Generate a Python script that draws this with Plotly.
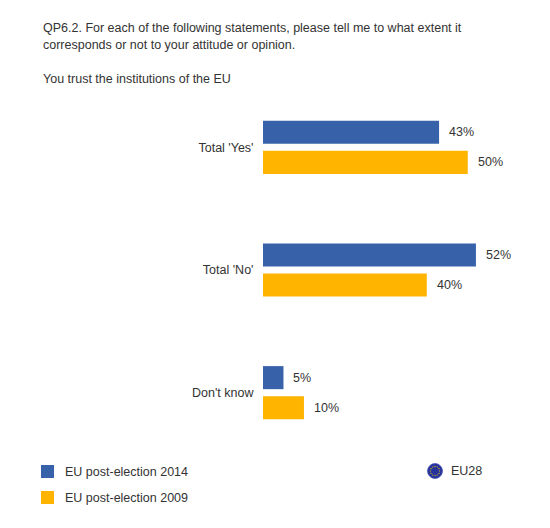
import math
import plotly.graph_objects as go

"""
Data
"""
categories = ["Total 'Yes'", "Total 'No'", "Don't know"]
series_names = ['EU post-election 2014', 'EU post-election 2009']
values_2014 = [43, 52, 5]
values_2009 = [50, 40, 10]

question = ['QP6.2. For each of the following statements, please tell me to what extent it',
            'corresponds or not to your attitude or opinion.']
subtitle = 'You trust the institutions of the EU'
scope_label = 'EU28'

"""
Style
"""
BLUE = '#3762AA'
ORANGE = '#FFB400'
TEXT = '#333333'
FONT = 'Liberation Sans, Arial, sans-serif'
FS = 12.5

OFF = 8  # the page body has an 8px margin, so the figure sits 8px in
# plot area in page pixels (window 550x528)
L, R, T, B = 263, 5, 86, 74
PX_PER_PCT = 4.095
x_max = (550 - L - R) / PX_PER_PCT

fig = go.Figure()
colors = [BLUE, ORANGE]
for name, vals, col in zip(series_names, [values_2014, values_2009], colors):
    fig.add_trace(go.Bar(y=categories, x=vals, orientation='h', name=name,
                         marker=dict(color=col, line=dict(width=0)),
                         showlegend=False, hoverinfo='x+y'))

# value labels next to bar ends
for vals, shift in zip([values_2014, values_2009], [15, -15]):
    for cat, v in zip(categories, vals):
        fig.add_annotation(x=v, y=cat, text='{}%'.format(v), showarrow=False,
                           xanchor='left', yanchor='middle', xshift=8, yshift=shift,
                           font=dict(family=FONT, size=FS, color=TEXT))

# title lines
for txt, ypix in zip(question + [subtitle], [28, 45, 79]):
    fig.add_annotation(x=0, y=1, xref='paper', yref='paper', text=txt, showarrow=False,
                       xanchor='left', yanchor='middle', xshift=41 - L, yshift=T - ypix,
                       font=dict(family=FONT, size=FS, color=TEXT))

# legend (drawn by hand to match the layout)
bottom = 528 - B
for name, col, (top_px, bot_px) in zip(series_names, colors, [(465, 478), (491, 504)]):
    fig.add_shape(type='rect', xref='paper', yref='paper', xsizemode='pixel', ysizemode='pixel',
                  xanchor=0, yanchor=0, x0=41 - L, x1=54 - L,
                  y0=bottom - bot_px, y1=bottom - top_px,
                  fillcolor=col, line=dict(width=0))
    fig.add_annotation(x=0, y=0, xref='paper', yref='paper', text=name, showarrow=False,
                       xanchor='left', yanchor='middle', xshift=63 - L,
                       yshift=bottom - (top_px + bot_px) / 2,
                       font=dict(family=FONT, size=FS, color=TEXT))

# EU flag bubble
cx, cy, r = 435 - L, bottom - 471, 7.5
fig.add_shape(type='circle', xref='paper', yref='paper', xsizemode='pixel', ysizemode='pixel',
              xanchor=0, yanchor=0, x0=cx - r, x1=cx + r, y0=cy - r, y1=cy + r,
              fillcolor='#26339A', line=dict(color='#4a57b8', width=0.8))
for k in range(12):
    a = 2 * math.pi * k / 12
    sx, sy = cx + 4.6 * math.cos(a), cy + 4.6 * math.sin(a)
    fig.add_shape(type='circle', xref='paper', yref='paper', xsizemode='pixel', ysizemode='pixel',
                  xanchor=0, yanchor=0, x0=sx - 0.6, x1=sx + 0.6, y0=sy - 0.6, y1=sy + 0.6,
                  fillcolor='#FFD200', line=dict(width=0))
fig.add_annotation(x=0, y=0, xref='paper', yref='paper', text=scope_label, showarrow=False,
                   xanchor='left', yanchor='middle', xshift=449 - L, yshift=cy,
                   font=dict(family=FONT, size=FS, color=TEXT))

fig.update_layout(width=550 - OFF, height=528 - OFF,
                  margin=dict(l=L - OFF, r=R, t=T - OFF, b=B, autoexpand=False),
                  barmode='group', bargap=0.51, bargroupgap=0.233,
                  paper_bgcolor='white', plot_bgcolor='white',
                  font=dict(family=FONT, size=FS, color=TEXT))
fig.update_xaxes(range=[0, x_max], visible=False, fixedrange=True)
fig.update_yaxes(autorange='reversed', showgrid=False, showline=False, zeroline=False,
                 ticks='outside', ticklen=6, tickcolor='rgba(0,0,0,0)',
                 tickfont=dict(family=FONT, size=FS, color=TEXT), fixedrange=True)

fig.write_html("out.html")
